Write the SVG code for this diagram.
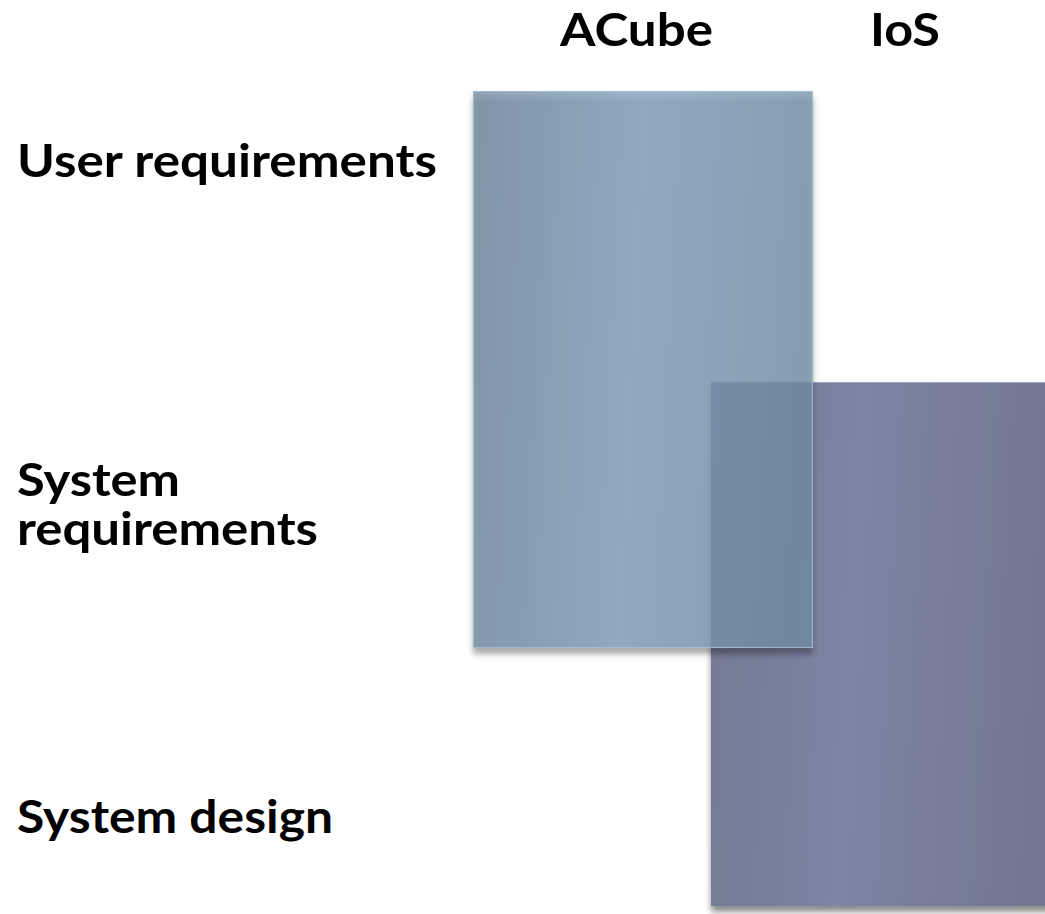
<svg xmlns="http://www.w3.org/2000/svg" width="1045" height="914" viewBox="0 0 1045 914">
<defs>
<style>
.lbl{font-family:Lato,"Open Sans","Liberation Sans",sans-serif;font-weight:bold;font-size:46px;fill:#000}
</style>
<linearGradient id="gA" x1="0" y1="0" x2="1" y2="0.08">
<stop offset="0" stop-color="#6c869b"/>
<stop offset="0.5" stop-color="#7e9ebb"/>
<stop offset="1" stop-color="#7490a8"/>
</linearGradient>
<linearGradient id="gI" x1="0" y1="0" x2="1" y2="0.08">
<stop offset="0" stop-color="#727991"/>
<stop offset="0.45" stop-color="#7d84a5"/>
<stop offset="1" stop-color="#71778f"/>
</linearGradient>
<filter id="sh" x="-10%" y="-10%" width="120%" height="120%">
<feGaussianBlur in="SourceAlpha" stdDeviation="3"/>
<feOffset dx="0" dy="6" result="b"/>
<feComponentTransfer><feFuncA type="linear" slope="0.45"/></feComponentTransfer>
<feMerge><feMergeNode/><feMergeNode in="SourceGraphic"/></feMerge>
</filter>
</defs>
<rect width="1045" height="914" fill="#fff"/>
<g id="labels">
<text class="lbl" x="560" y="46" textLength="153" lengthAdjust="spacingAndGlyphs">ACube</text>
<text class="lbl" x="870" y="46" textLength="70" lengthAdjust="spacingAndGlyphs">IoS</text>
<text class="lbl" x="17" y="177" textLength="420" lengthAdjust="spacingAndGlyphs">User requirements</text>
<text class="lbl" x="17" y="496" textLength="163" lengthAdjust="spacingAndGlyphs">System</text>
<text class="lbl" x="17" y="545" textLength="301" lengthAdjust="spacingAndGlyphs">requirements</text>
<text class="lbl" x="17" y="833" textLength="316" lengthAdjust="spacingAndGlyphs">System design</text>
</g>
<g id="ios">
<rect x="711" y="382" width="340" height="524" fill="url(#gI)" filter="url(#sh)"/>
<line x1="711" y1="382.5" x2="1045" y2="382.5" stroke="#a0a6c0" stroke-width="1"/>
</g>
<g id="acube">
<g filter="url(#sh)">
<rect x="473" y="91" width="340" height="557" fill="url(#gA)" fill-opacity="0.75"/>
</g>
<rect x="473.5" y="91.5" width="339" height="556" fill="none" stroke="#a9bfd2" stroke-opacity="0.8" stroke-width="1.2"/>
</g>
</svg>
